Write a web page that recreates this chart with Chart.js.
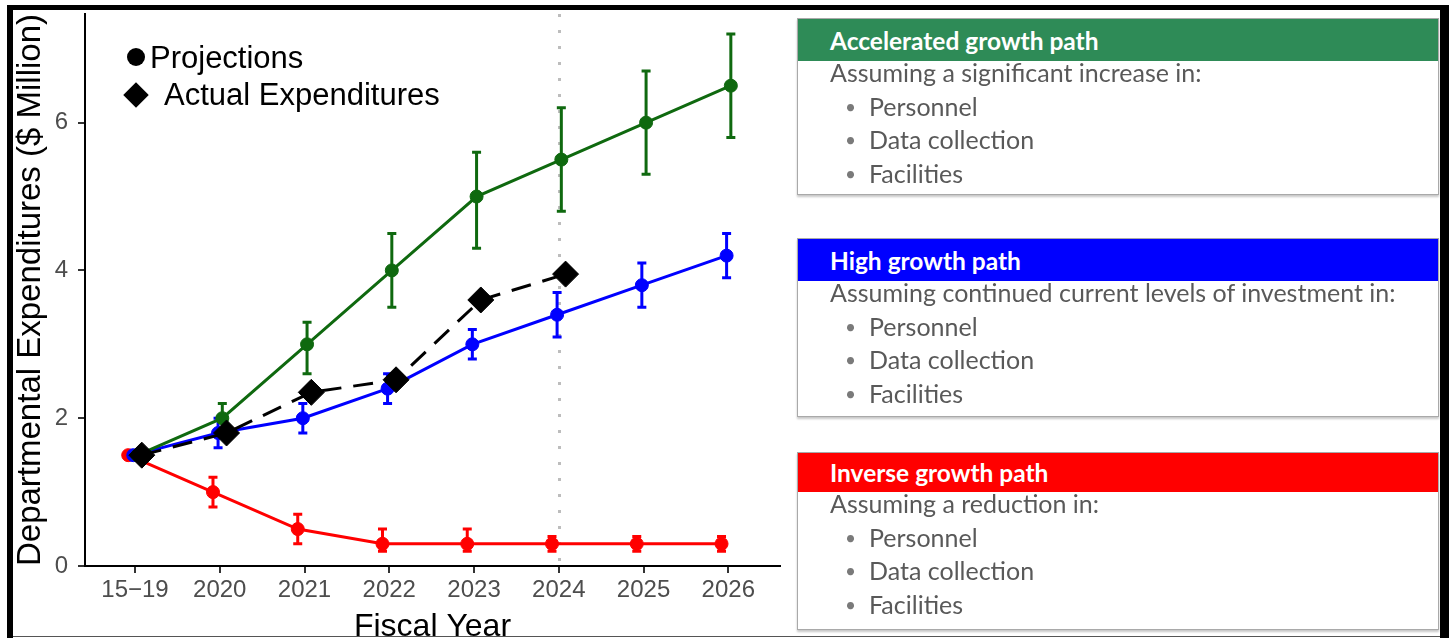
<!DOCTYPE html>
<html>
<head>
<meta charset="utf-8">
<script src="https://cdn.jsdelivr.net/npm/chart.js@4.4.1/dist/chart.umd.min.js"></script>
<style>
html,body{margin:0;padding:0;width:1449px;height:638px;overflow:hidden;background:#fff;}
body{position:relative;}
#c{position:absolute;left:0;top:0;}
.frame{position:absolute;}
.leg{position:absolute;font-family:'Liberation Sans',Arial,Helvetica,sans-serif;font-size:31px;line-height:31px;color:#000;white-space:nowrap;}
.mk{position:absolute;background:#000;}
.box{position:absolute;left:797px;width:642px;border:1px solid #a9a9a9;box-sizing:border-box;background:#fff;box-shadow:0 2px 2px rgba(0,0,0,0.22);font-family:Lato,'Open Sans',sans-serif;}
.hdr{position:absolute;left:0;top:0;right:0;color:#fff;font-weight:bold;font-size:24.5px;padding-left:32px;box-sizing:border-box;display:flex;align-items:center;white-space:nowrap;}
.bd{position:absolute;left:32px;color:#595959;font-size:25px;line-height:33.5px;white-space:nowrap;}
.li{position:relative;padding-left:39px;}
.li:before{content:'\2022';position:absolute;left:15px;font-size:19px;color:#7a7a7a;}
</style>
</head>
<body>
<canvas id="c" width="800" height="650"></canvas>
<div id="overlay"></div>
<script>
// ---- data ----
const CATEGORIES = ['15\u221219', '2020', '2021', '2022', '2023', '2024', '2025', '2026'];
const Y_TICKS = [0, 2, 4, 6];

const ACCEL    = [1.5, 2.0, 3.0, 4.0, 5.0, 5.5, 6.0, 6.5];
const ACCEL_LO = [1.5, 1.8, 2.6, 3.5, 4.3, 4.8, 5.3, 5.8];
const ACCEL_HI = [1.5, 2.2, 3.3, 4.5, 5.6, 6.2, 6.7, 7.2];

const HIGH    = [1.5, 1.8, 2.0, 2.4, 3.0, 3.4, 3.8, 4.2];
const HIGH_LO = [1.5, 1.6, 1.8, 2.2, 2.8, 3.1, 3.5, 3.9];
const HIGH_HI = [1.5, 2.0, 2.2, 2.6, 3.2, 3.7, 4.1, 4.5];

const INVERSE    = [1.5, 1.0, 0.5, 0.3, 0.3, 0.3, 0.3, 0.3];
const INVERSE_LO = [1.5, 0.8, 0.3, 0.2, 0.2, 0.2, 0.2, 0.2];
const INVERSE_HI = [1.5, 1.2, 0.7, 0.5, 0.5, 0.4, 0.4, 0.4];

const ACTUAL = [1.5, 1.8, 2.35, 2.52, 3.6, 3.95];

const MARK_CATEGORY = '2024';

const LEGEND_LABELS = ['Projections', 'Actual Expenditures'];
const BOX_TITLES = ['Accelerated growth path', 'High growth path', 'Inverse growth path'];
const BOX_INTROS = ['Assuming a significant increase in:', 'Assuming continued current levels of investment in:', 'Assuming a reduction in:'];
const BOX_ITEMS = ['Personnel', 'Data collection', 'Facilities'];

// ---- styling ----
const COLORS = {accel: '#0f690f', high: '#0000ff', inverse: '#ff0000', actual: '#000000'};
const DODGE = {inverse: -0.08, high: -0.02, accel: 0.03, actual: 0.08};
const FONT = "'Liberation Sans', Arial, Helvetica, sans-serif";

const pts = (arr, off) => arr.map((v, i) => ({x: i + off, y: v}));

const errorBars = {
  id: 'errorBars',
  beforeDatasetsDraw(chart) {
    const {ctx, chartArea, scales} = chart;
    const x = scales.x, y = scales.y;
    ctx.save();
    const px = Math.round(x.getPixelForValue(CATEGORIES.indexOf(MARK_CATEGORY))) + 0.5;
    ctx.strokeStyle = '#bdbdbd';
    ctx.lineWidth = 3;
    ctx.setLineDash([3, 13]);
    ctx.beginPath();
    ctx.moveTo(px, chartArea.top);
    ctx.lineTo(px, chartArea.bottom);
    ctx.stroke();
    ctx.setLineDash([]);
    const order = [...chart.data.datasets.keys()].sort((a, b) => chart.data.datasets[b].order - chart.data.datasets[a].order);
    order.forEach(i => {
      const ds = chart.data.datasets[i];
      if (!ds.errLo) return;
      const meta = chart.getDatasetMeta(i);
      ctx.strokeStyle = ds.borderColor;
      ctx.lineWidth = 3;
      meta.data.forEach((pt, j) => {
        const lo = y.getPixelForValue(ds.errLo[j]);
        const hi = y.getPixelForValue(ds.errHi[j]);
        if (Math.abs(lo - hi) < 0.5) return;
        const cx = pt.x;
        ctx.beginPath();
        ctx.moveTo(cx, lo); ctx.lineTo(cx, hi);
        ctx.moveTo(cx - 4.5, lo); ctx.lineTo(cx + 4.5, lo);
        ctx.moveTo(cx - 4.5, hi); ctx.lineTo(cx + 4.5, hi);
        ctx.stroke();
      });
    });
    ctx.restore();
  }
};

const projDs = (label, arr, lo, hi, key, order) => ({
  label, data: pts(arr, DODGE[key]), errLo: lo, errHi: hi,
  borderColor: COLORS[key], backgroundColor: COLORS[key],
  pointBackgroundColor: COLORS[key], pointBorderColor: COLORS[key],
  borderWidth: 3, pointRadius: 6.5, pointBorderWidth: 1, pointStyle: 'circle',
  tension: 0, clip: false, order
});

new Chart(document.getElementById('c'), {
  type: 'line',
  data: {
    datasets: [
      projDs('Inverse growth path', INVERSE, INVERSE_LO, INVERSE_HI, 'inverse', 4),
      projDs('High growth path', HIGH, HIGH_LO, HIGH_HI, 'high', 3),
      projDs('Accelerated growth path', ACCEL, ACCEL_LO, ACCEL_HI, 'accel', 2),
      {
        label: 'Actual Expenditures', data: pts(ACTUAL, DODGE.actual),
        borderColor: COLORS.actual, backgroundColor: COLORS.actual,
        pointBackgroundColor: COLORS.actual, pointBorderColor: COLORS.actual,
        borderWidth: 3, borderDash: [20, 12], pointStyle: 'rectRot', pointRadius: 13,
        pointBorderWidth: 1, tension: 0, clip: false, order: 1
      }
    ]
  },
  options: {
    responsive: false, animation: false, devicePixelRatio: 1,
    layout: {padding: {left: 11, top: 13, right: 20, bottom: 0}},
    plugins: {legend: {display: false}, tooltip: {enabled: false}},
    scales: {
      x: {
        type: 'linear', min: -0.59, max: 7.61,
        afterBuildTicks: s => { s.ticks = CATEGORIES.map((_, i) => ({value: i})); },
        afterFit: s => { s.height = 84; s.paddingLeft = 0; s.paddingRight = 0; },
        ticks: {callback: v => CATEGORIES[Math.round(v)], font: {family: FONT, size: 24}, color: '#4d4d4d', padding: 3, maxRotation: 0, autoSkip: false},
        grid: {drawOnChartArea: false, drawTicks: true, tickLength: 7, color: '#333', lineWidth: 2},
        border: {display: true, color: '#000', width: 2},
        title: {display: true, text: 'Fiscal Year', font: {family: FONT, size: 32}, color: '#000', padding: {top: 0, bottom: 4}}
      },
      y: {
        type: 'linear', min: 0, max: 7.47,
        afterBuildTicks: s => { s.ticks = Y_TICKS.map(v => ({value: v})); },
        afterFit: s => { s.width = 74; s.paddingTop = 0; s.paddingBottom = 0; },
        ticks: {callback: v => String(v), font: {family: FONT, size: 24}, color: '#4d4d4d', padding: 10},
        grid: {drawOnChartArea: false, drawTicks: true, tickLength: 7, color: '#333', lineWidth: 2},
        border: {display: true, color: '#000', width: 2},
        title: {display: true, text: 'Departmental Expenditures ($ Million)', font: {family: FONT, size: 33}, color: '#000', padding: {top: 0, bottom: 0}}
      }
    }
  },
  plugins: [errorBars]
});

// ---- overlay: legend, boxes, frame ----
const ov = document.getElementById('overlay');
function el(cls, style, text) {
  const d = document.createElement('div');
  d.className = cls;
  Object.assign(d.style, style);
  if (text !== undefined) d.textContent = text;
  return d;
}
ov.appendChild(el('mk', {left: '127px', top: '48px', width: '18px', height: '18px', borderRadius: '50%'}));
ov.appendChild(el('leg', {left: '150px', top: '42px'}, LEGEND_LABELS[0]));
ov.appendChild(el('mk', {left: '127px', top: '86px', width: '18px', height: '18px', transform: 'rotate(45deg)'}));
ov.appendChild(el('leg', {left: '164px', top: '79px'}, LEGEND_LABELS[1]));

const BOX_COLORS = ['#2e8b57', '#0000ff', '#ff0000'];
const BOX_TOP = [18, 238, 452];
const BOX_H = [177, 179, 178];
const HDR_H = [42, 42, 39];
BOX_TITLES.forEach((t, k) => {
  const b = el('box', {top: BOX_TOP[k] + 'px', height: BOX_H[k] + 'px'});
  b.appendChild(el('hdr', {height: HDR_H[k] + 'px', background: BOX_COLORS[k]}, t));
  const bd = el('bd', {top: (HDR_H[k] - 5) + 'px'});
  bd.appendChild(el('', {}, BOX_INTROS[k]));
  BOX_ITEMS.forEach(it => bd.appendChild(el('li', {}, it)));
  b.appendChild(bd);
  ov.appendChild(b);
});

ov.appendChild(el('frame', {left: '7px', top: '5px', width: '1442px', height: '5px', background: '#000'}));
ov.appendChild(el('frame', {left: '7px', top: '5px', width: '6px', height: '633px', background: '#000'}));
ov.appendChild(el('frame', {left: '1440px', top: '5px', width: '9px', height: '633px', background: '#000'}));
ov.appendChild(el('frame', {left: '13px', top: '636px', width: '1427px', height: '1px', background: '#555'}));
</script>
</body>
</html>
